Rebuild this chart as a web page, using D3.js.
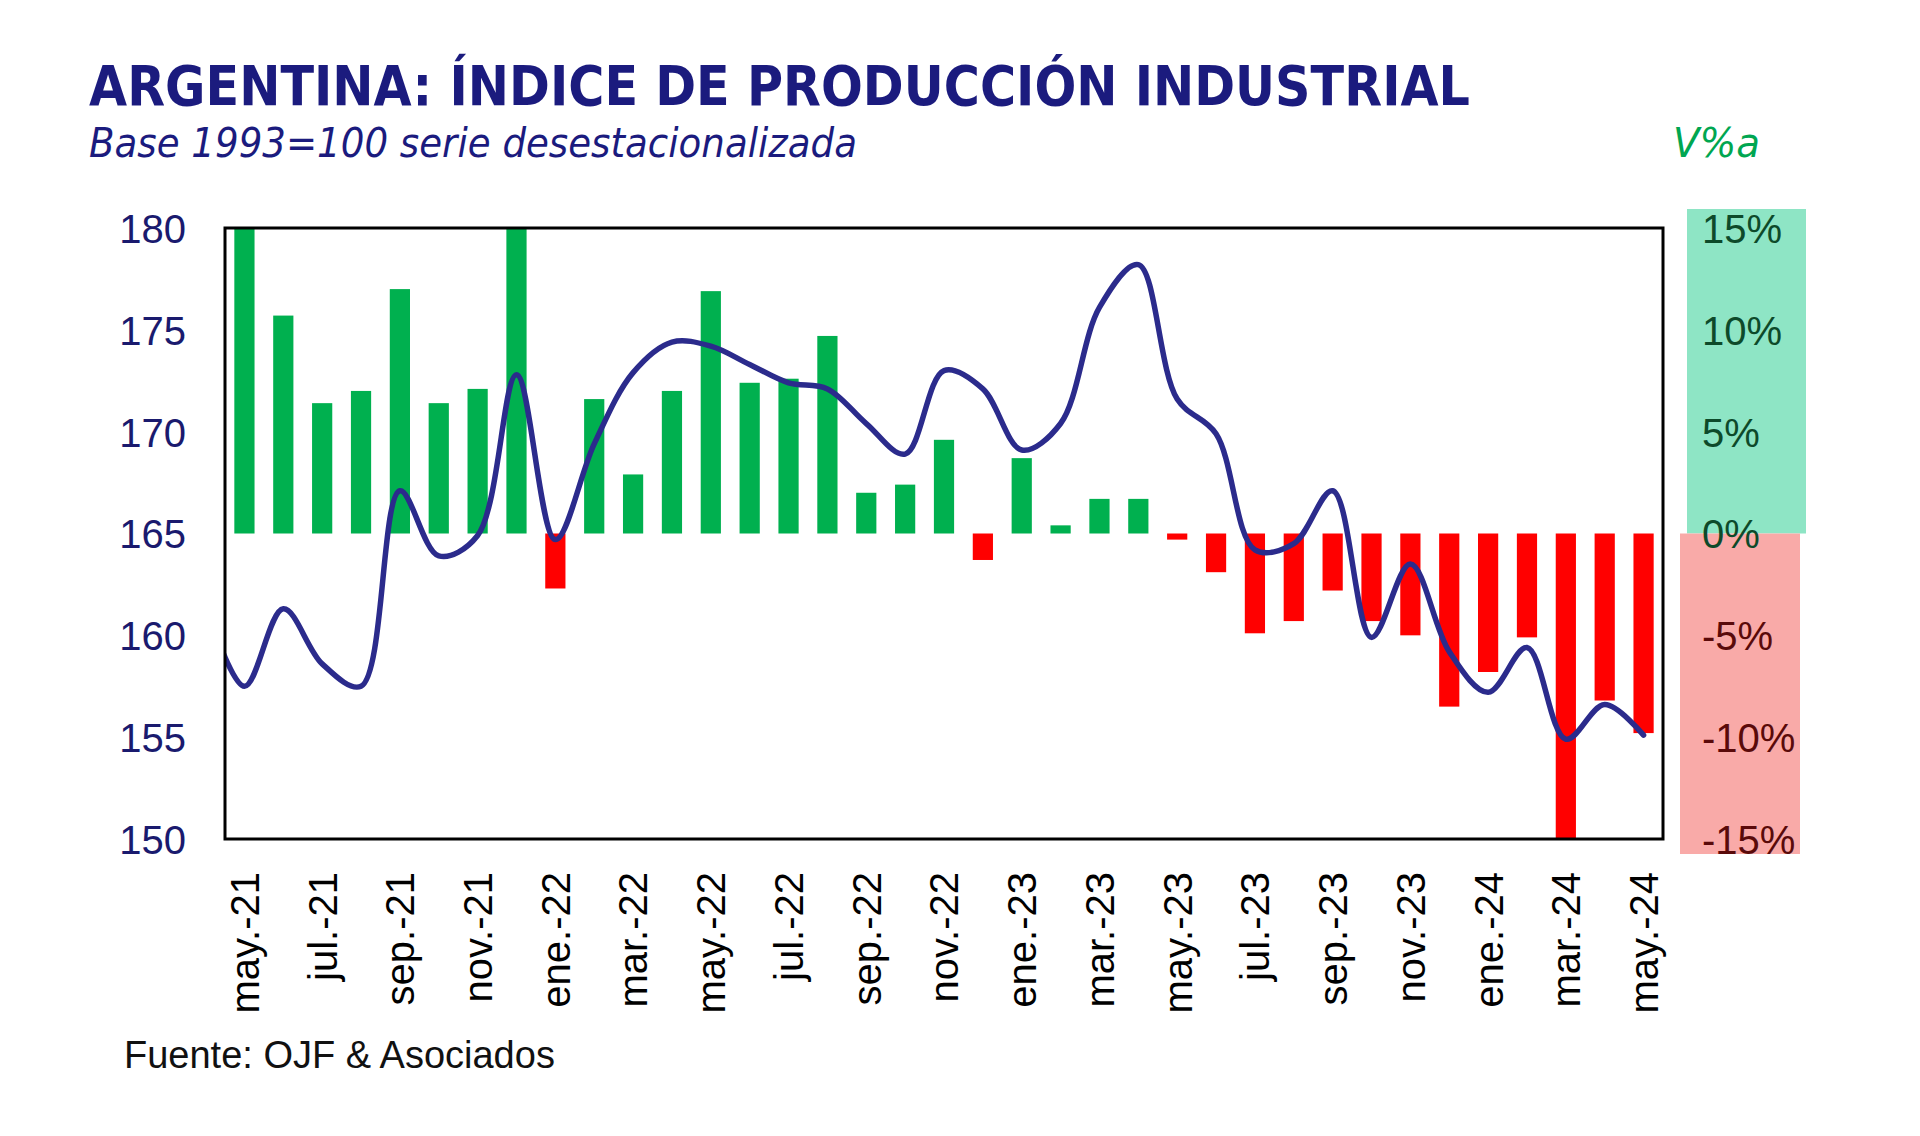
<!DOCTYPE html>
<html><head><meta charset="utf-8">
<script src="https://cdn.jsdelivr.net/npm/d3@7"></script>
<style>
html,body{margin:0;padding:0;background:#fff;}
svg{display:block;}
</style></head>
<body>
<svg id="chart" width="1920" height="1136"></svg>
<script>
// ---- data ----
const months = ["may.-21","jun.-21","jul.-21","ago.-21","sep.-21","oct.-21","nov.-21","dic.-21",
  "ene.-22","feb.-22","mar.-22","abr.-22","may.-22","jun.-22","jul.-22","ago.-22","sep.-22","oct.-22","nov.-22","dic.-22",
  "ene.-23","feb.-23","mar.-23","abr.-23","may.-23","jun.-23","jul.-23","ago.-23","sep.-23","oct.-23","nov.-23","dic.-23",
  "ene.-24","feb.-24","mar.-24","abr.-24","may.-24"];
// IPI, base 1993=100, seasonally adjusted (left axis)
const ipi = [157.5,161.3,158.6,157.5,167.1,163.9,164.9,172.8,
  164.7,169.4,172.9,174.4,174.2,173.3,172.4,172.1,170.4,168.9,173.0,172.1,
  169.1,170.4,176.1,178.2,171.6,169.9,164.2,164.5,167.1,159.9,163.5,159.2,
  157.2,159.4,154.9,156.6,155.1];
// previous month (abr.-21), only visible as the line entering from the left edge
const ipiLeadIn = 161.5;
// year-on-year change, % (right axis)
const varYoY = [15,10.7,6.4,7.0,12.0,6.4,7.1,15,
  -2.7,6.6,2.9,7.0,11.9,7.4,7.6,9.7,2.0,2.4,4.6,-1.3,
  3.7,0.4,1.7,1.7,-0.3,-1.9,-4.9,-4.3,-2.8,-4.3,-5.0,-8.5,
  -6.8,-5.1,-15,-8.2,-9.8];
const leftTicks = [150,155,160,165,170,175,180];
const rightTicks = [-15,-10,-5,0,5,10,15];
const xTickLabels = months.filter((d,i)=>i%2===0);

// ---- layout ----
const svg = d3.select("#chart");
const L = 225, R = 1663, T = 228, B = 839;

const x = d3.scaleBand().domain(months).range([L,R]).paddingInner(0.48).paddingOuter(0.24);
const yL = d3.scaleLinear().domain([150,180]).range([B,T]);
const yR = d3.scaleLinear().domain([-15,15]).range([B,T]);

svg.append("defs").append("clipPath").attr("id","plotclip")
  .append("rect").attr("x",L).attr("y",T).attr("width",R-L).attr("height",B-T);

// Title
svg.append("text").attr("x",89).attr("y",105)
  .attr("font-family","DejaVu Sans").attr("font-weight","bold").attr("font-size",55)
  .attr("fill","#1b1b7e").attr("textLength",1381).attr("lengthAdjust","spacingAndGlyphs")
  .text("ARGENTINA: ÍNDICE DE PRODUCCIÓN INDUSTRIAL");
svg.append("text").attr("x",89).attr("y",157)
  .attr("font-family","DejaVu Sans").attr("font-style","italic").attr("font-size",41)
  .attr("fill","#1b1b7e").attr("textLength",768).attr("lengthAdjust","spacingAndGlyphs")
  .text("Base 1993=100 serie desestacionalizada");
svg.append("text").attr("x",1673).attr("y",157)
  .attr("font-family","DejaVu Sans").attr("font-style","italic").attr("font-size",41)
  .attr("fill","#00a651").attr("textLength",87).attr("lengthAdjust","spacingAndGlyphs")
  .text("V%a");

// right-axis label backgrounds
svg.append("rect").attr("x",1687).attr("y",yR(15)-19).attr("width",119).attr("height",yR(0)-yR(15)+19)
  .attr("fill","#8ee5c5");
svg.append("rect").attr("x",1680).attr("y",yR(0)).attr("width",120).attr("height",yR(-15)-yR(0)+15)
  .attr("fill","#f9aaa8");

// bars
const g = svg.append("g").attr("clip-path","url(#plotclip)");
g.selectAll("rect.bar").data(months).join("rect").attr("class","bar")
  .attr("x",d=>x(d)).attr("width",x.bandwidth())
  .attr("y",(d,i)=>yR(Math.max(0,varYoY[i])))
  .attr("height",(d,i)=>Math.abs(yR(varYoY[i])-yR(0)))
  .attr("fill",(d,i)=>varYoY[i]>=0?"#00b04f":"#ff0000");

// line
const cx = d=>x(d)+x.bandwidth()/2;
const pts = [[cx(months[0])-x.step(), yL(ipiLeadIn)]].concat(months.map((m,i)=>[cx(m), yL(ipi[i])]));
g.append("path").attr("d",d3.line().curve(d3.curveCatmullRom.alpha(0.5))(pts))
  .attr("fill","none").attr("stroke","#2b2b8c").attr("stroke-width",5.5)
  .attr("stroke-linejoin","round").attr("stroke-linecap","round");

// plot frame
svg.append("rect").attr("x",L).attr("y",T).attr("width",R-L).attr("height",B-T)
  .attr("fill","none").attr("stroke","#000").attr("stroke-width",3);

// left axis
const ax = svg.append("g").attr("transform",`translate(${L},0)`)
  .call(d3.axisLeft(yL).tickValues(leftTicks).tickSize(0).tickPadding(39));
ax.select(".domain").remove();
ax.selectAll("text").attr("font-family","Liberation Sans, Arial").attr("font-size",40)
  .attr("fill","#1a1a6e").attr("dy","0.36em");

// right axis
const ar = svg.append("g").attr("transform",`translate(${R},0)`)
  .call(d3.axisRight(yR).tickValues(rightTicks).tickSize(0).tickPadding(39).tickFormat(d=>d+"%"));
ar.select(".domain").remove();
ar.selectAll("text").attr("font-family","Liberation Sans, Arial").attr("font-size",40)
  .attr("fill",d=>d>=0?"#0d4a2a":"#5a0a0a").attr("dy","0.36em");

// bottom axis
const ab = svg.append("g").attr("transform",`translate(0,${B})`)
  .call(d3.axisBottom(x).tickValues(xTickLabels).tickSize(0).tickPadding(0));
ab.select(".domain").remove();
ab.selectAll("text").attr("font-family","Liberation Sans, Arial").attr("font-size",40)
  .attr("fill","#000").attr("text-anchor","end")
  .attr("transform","translate(0,33) rotate(-90)").attr("x",0).attr("y",0).attr("dy","0.36em");

// source
svg.append("text").attr("x",124).attr("y",1068)
  .attr("font-family","Liberation Sans, Arial").attr("font-size",38).attr("fill","#111")
  .text("Fuente: OJF & Asociados");
</script>
</body></html>
